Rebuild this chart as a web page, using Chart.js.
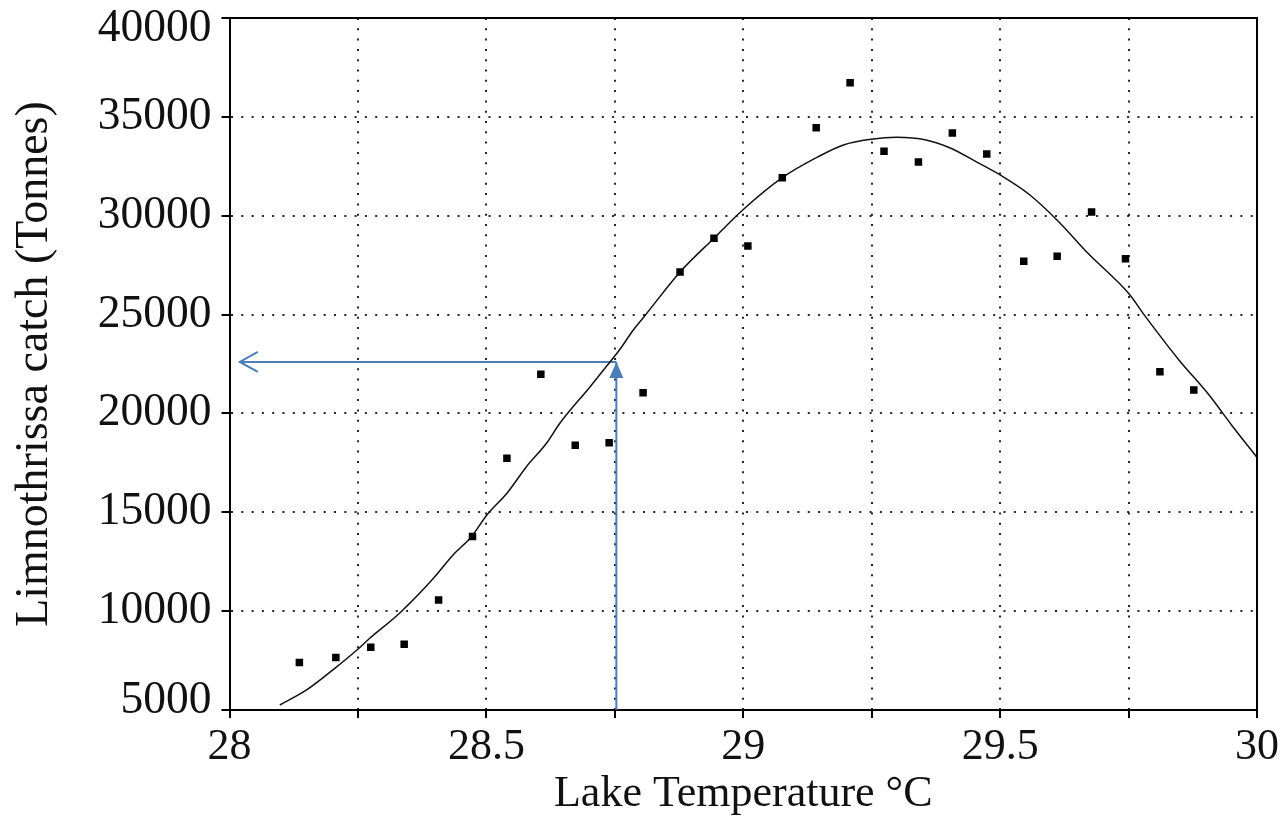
<!DOCTYPE html>
<html><head><meta charset="utf-8">
<script src="https://cdn.jsdelivr.net/npm/chart.js@4.4.1/dist/chart.umd.min.js"></script>
<style>html,body{margin:0;padding:0;background:#fff;}canvas{display:block;}</style>
</head><body>
<canvas id="c" width="1282" height="818"></canvas>
<script>
// Observed catch vs lake temperature
const catchTemp = [28.136, 28.207, 28.275, 28.340, 28.407, 28.473, 28.540, 28.606, 28.673, 28.739, 28.805,
  28.877, 28.943, 29.009, 29.076, 29.142, 29.208, 29.274, 29.341, 29.407, 29.474, 29.546, 29.611, 29.678, 29.744, 29.811, 29.877];
const catchTonnes = [7400, 7650, 8170, 8320, 10560, 13770, 17730, 21980, 18390, 18520, 21050,
  27155, 28860, 28470, 31925, 34454, 36730, 33260, 32718, 34186, 33123, 27696, 27949, 30190, 27828, 22112, 21186];
// Fitted curve
const fitTemp = [28.098, 28.150, 28.205, 28.248, 28.273, 28.332, 28.397, 28.436, 28.471, 28.501, 28.540, 28.578, 28.617, 28.643,
  28.702, 28.741, 28.759, 28.786, 28.807, 28.877, 28.943, 28.999, 29.076, 29.146, 29.195, 29.249, 29.299, 29.356, 29.404,
  29.453, 29.500, 29.558, 29.614, 29.671, 29.750, 29.783, 29.848, 29.904, 29.953, 29.999];
const fitTonnes = [5253, 6012, 7109, 8035, 8627, 9922, 11662, 12870, 13766, 14863, 15961, 17306, 18490, 19502,
  21353, 22618, 23209, 24221, 24894, 27155, 28860, 30291, 31925, 32987, 33579, 33867, 33968, 33831, 33412,
  32734, 32061, 31049, 29699, 28100, 26077, 24894, 22704, 21019, 19330, 17812];
// Read-off arrows
const readTemp = 28.753;
const readTonnes = 22603;
const readArrowEndTemp = 28.020;
const readArrowBaseTonnes = 5000;
// Axis ticks
const xTickValues = [28, 28.25, 28.5, 28.75, 29, 29.25, 29.5, 29.75, 30];
const xTickLabels = ['28', '', '28.5', '', '29', '', '29.5', '', '30'];
const yTickValues = [5000, 10000, 15000, 20000, 25000, 30000, 35000, 40000];
const yTickLabels = ['5000', '10000', '15000', '20000', '25000', '30000', '35000', '40000'];

const FONT = '"Liberation Serif", "Times New Roman", serif';
const TXT = '#111';
const ARROW = '#4a7ebb';
const lastY = yTickValues.length - 1;

const framePlugin = {
  id: 'frame',
  afterDatasetsDraw(chart) {
    const ctx = chart.ctx;
    const hp = chart.getDatasetMeta(2).data[1];
    const vp = chart.getDatasetMeta(3).data[1];
    ctx.save();
    ctx.strokeStyle = ARROW; ctx.lineWidth = 2; ctx.setLineDash([]);
    ctx.beginPath(); ctx.moveTo(hp.x + 18, hp.y - 10); ctx.lineTo(hp.x, hp.y); ctx.lineTo(hp.x + 18, hp.y + 10); ctx.stroke();
    ctx.fillStyle = ARROW;
    ctx.beginPath(); ctx.moveTo(vp.x, vp.y); ctx.lineTo(vp.x - 7, vp.y + 16); ctx.lineTo(vp.x + 7, vp.y + 16); ctx.closePath(); ctx.fill();
    ctx.restore();
  },
  afterDraw(chart) {
    const {ctx, chartArea: a} = chart;
    ctx.save();
    ctx.strokeStyle = '#000'; ctx.lineWidth = 2; ctx.setLineDash([]);
    ctx.beginPath(); ctx.moveTo(a.left, a.top); ctx.lineTo(a.right, a.top); ctx.lineTo(a.right, a.bottom); ctx.stroke();
    ctx.restore();
  }
};

new Chart(document.getElementById('c'), {
  type: 'scatter',
  data: {
    datasets: [
      { label: 'catch', data: catchTemp.map((t, i) => ({x: t, y: catchTonnes[i]})),
        pointStyle: 'rect', pointRadius: 5.3, pointBackgroundColor: '#000', pointBorderWidth: 0, showLine: false },
      { label: 'fit', data: fitTemp.map((t, i) => ({x: t, y: fitTonnes[i]})),
        showLine: true, borderColor: '#111', borderWidth: 1.5, pointRadius: 0, cubicInterpolationMode: 'monotone' },
      { label: 'h', data: [{x: readTemp, y: readTonnes}, {x: readArrowEndTemp, y: readTonnes}],
        showLine: true, borderColor: ARROW, borderWidth: 2, pointRadius: 0 },
      { label: 'v', data: [{x: readTemp, y: readArrowBaseTonnes}, {x: readTemp, y: readTonnes}],
        showLine: true, borderColor: ARROW, borderWidth: 2, pointRadius: 0 }
    ]
  },
  options: {
    responsive: false, devicePixelRatio: 1, animation: false,
    layout: { padding: { top: 18, right: 25, left: 0, bottom: 0 } },
    plugins: { legend: { display: false }, tooltip: { enabled: false } },
    scales: {
      x: {
        type: 'linear', min: 28, max: 30,
        afterBuildTicks: s => { s.ticks = xTickValues.map(v => ({value: v})); },
        afterFit: s => { s.height = 108; s.paddingLeft = 0; s.paddingRight = 0; },
        ticks: { callback: (v, i) => xTickLabels[i], color: TXT, padding: 3, maxRotation: 0, autoSkip: false,
          font: { family: FONT, size: 44 } },
        grid: { color: 'rgba(0,0,0,0.85)', lineWidth: 2, tickColor: '#000', tickWidth: 2, tickLength: 8, tickBorderDash: [] },
        border: { color: '#000', width: 2, dash: [2, 8.3] },
        title: { display: true, text: 'Lake Temperature °C', color: TXT,
          font: { family: FONT, size: 44, lineHeight: 1 }, padding: { top: 0, bottom: 2 } }
      },
      y: {
        type: 'linear', min: 5000, max: 40000,
        afterBuildTicks: s => { s.ticks = yTickValues.map(v => ({value: v})); },
        afterFit: s => { s.width = 229.5; s.paddingTop = 0; s.paddingBottom = 0; },
        ticks: {
          callback: (v, i) => i === 0 ? [yTickLabels[i], ''] : (i === lastY ? ['', yTickLabels[i]] : yTickLabels[i]),
          color: TXT, padding: 10, autoSkip: false,
          font: c => ({ family: FONT, size: 45.5, lineHeight: c.index === 0 ? 18 / 45.5 : (c.index === lastY ? 22 / 45.5 : 1.2) })
        },
        grid: { color: 'rgba(0,0,0,0.85)', lineWidth: 2, tickColor: '#000', tickWidth: 2, tickLength: 8, tickBorderDash: [] },
        border: { color: '#000', width: 2, dash: [2, 8.3] },
        title: { display: true, text: 'Limnothrissa catch (Tonnes)', color: TXT,
          font: { family: FONT, size: 46, lineHeight: 1 }, padding: { top: 11.5, bottom: 0 } }
      }
    }
  },
  plugins: [framePlugin]
});
</script>
</body></html>
